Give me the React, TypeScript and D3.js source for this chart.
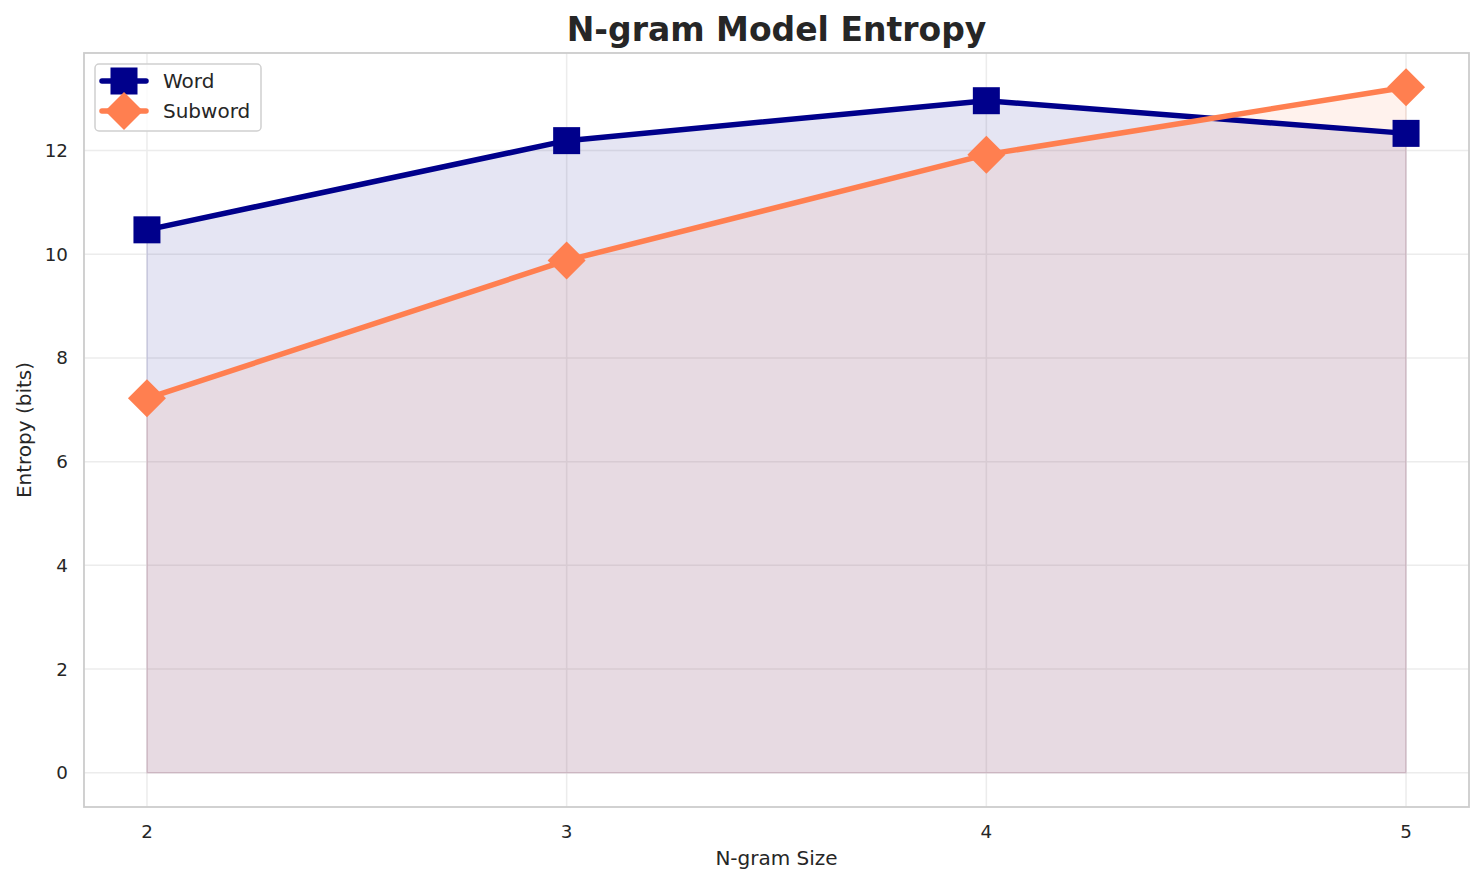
import React from 'react';
import * as d3 from 'd3';

const ngramSizes = [2, 3, 4, 5];
const wordEntropy = [10.47, 12.19, 12.96, 12.33];
const subwordEntropy = [7.22, 9.88, 11.92, 13.22];
const yTicks = [0, 2, 4, 6, 8, 10, 12];

const seriesList = [
  { name: 'Word', values: wordEntropy, color: '#00008b', marker: 'square' },
  { name: 'Subword', values: subwordEntropy, color: '#ff7f50', marker: 'diamond' },
];

const width = 1484;
const height = 885;
const margin = { top: 53, right: 15, bottom: 78, left: 84 };
const font = '"DejaVu Sans", sans-serif';
const textColor = '#262626';

function Marker({ kind, x, y, color }: { kind: string; x: number; y: number; color: string }) {
  if (kind === 'square') {
    return <rect x={x - 13.5} y={y - 13.5} width={27} height={27} fill={color} />;
  }
  const r = 19;
  return (
    <path
      d={`M${x},${y - r}L${x + r},${y}L${x},${y + r}L${x - r},${y}Z`}
      fill={color}
    />
  );
}

export default function App() {
  const x = d3
    .scaleLinear()
    .domain([1.85, 5.15])
    .range([margin.left, width - margin.right]);
  const y = d3
    .scaleLinear()
    .domain([-0.66, 13.88])
    .range([height - margin.bottom, margin.top]);

  const line = d3
    .line<number>()
    .x((_, i) => x(ngramSizes[i]))
    .y((d) => y(d));
  const area = d3
    .area<number>()
    .x((_, i) => x(ngramSizes[i]))
    .y0(y(0))
    .y1((d) => y(d));

  const plotLeft = margin.left;
  const plotRight = width - margin.right;
  const plotTop = margin.top;
  const plotBottom = height - margin.bottom;

  return (
    <svg
      width={width}
      height={height}
      style={{ display: 'block', position: 'absolute', left: 0, top: 0, background: '#fff' }}
      fontFamily={font}
    >
      <rect x={0} y={0} width={width} height={height} fill="#fff" />

      {/* grid */}
      {yTicks.map((t) => (
        <line
          key={'gy' + t}
          x1={plotLeft}
          x2={plotRight}
          y1={y(t)}
          y2={y(t)}
          stroke="#ececec"
          strokeWidth={1.5}
        />
      ))}
      {ngramSizes.map((t) => (
        <line
          key={'gx' + t}
          x1={x(t)}
          x2={x(t)}
          y1={plotTop}
          y2={plotBottom}
          stroke="#ececec"
          strokeWidth={1.5}
        />
      ))}

      {/* filled areas */}
      {seriesList.map((s) => (
        <path
          key={'a' + s.name}
          d={area(s.values) || ''}
          fill={s.color}
          fillOpacity={0.1}
          stroke={s.color}
          strokeOpacity={0.1}
          strokeWidth={1.5}
        />
      ))}

      {/* lines and markers */}
      {seriesList.map((s) => (
        <g key={'l' + s.name}>
          <path d={line(s.values) || ''} fill="none" stroke={s.color} strokeWidth={5.5} strokeLinejoin="round" />
          {s.values.map((v, i) => (
            <Marker key={i} kind={s.marker} x={x(ngramSizes[i])} y={y(v)} color={s.color} />
          ))}
        </g>
      ))}

      {/* frame */}
      <rect
        x={plotLeft}
        y={plotTop}
        width={plotRight - plotLeft}
        height={plotBottom - plotTop}
        fill="none"
        stroke="#cccccc"
        strokeWidth={1.8}
      />

      {/* y ticks */}
      {yTicks.map((t) => (
        <text
          key={'ty' + t}
          x={plotLeft - 16}
          y={y(t)}
          textAnchor="end"
          dominantBaseline="central"
          fontSize={18.3}
          fill={textColor}
        >
          {t}
        </text>
      ))}
      {/* x ticks */}
      {ngramSizes.map((t) => (
        <text
          key={'tx' + t}
          x={x(t)}
          y={plotBottom + 24}
          textAnchor="middle"
          dominantBaseline="central"
          fontSize={18.3}
          fill={textColor}
        >
          {t}
        </text>
      ))}

      {/* axis labels */}
      <text
        x={(plotLeft + plotRight) / 2}
        y={865}
        textAnchor="middle"
        fontSize={20}
        fill={textColor}
      >
        N-gram Size
      </text>
      <text
        transform={`translate(31, ${(plotTop + plotBottom) / 2}) rotate(-90)`}
        textAnchor="middle"
        fontSize={20}
        fill={textColor}
      >
        Entropy (bits)
      </text>

      {/* title */}
      <text
        x={(plotLeft + plotRight) / 2}
        y={41}
        textAnchor="middle"
        fontSize={33}
        fontWeight="bold"
        fill={textColor}
      >
        N-gram Model Entropy
      </text>

      {/* legend */}
      <g>
        <rect x={95} y={64} width={166} height={67} rx={4} fill="#fff" fillOpacity={0.8} stroke="#d0d0d0" strokeWidth={1.5} />
        {seriesList.map((s, i) => {
          const ly = 81 + i * 30;
          return (
            <g key={'lg' + s.name}>
              <line x1={102} x2={146} y1={ly} y2={ly} stroke={s.color} strokeWidth={5.5} strokeLinecap="round" />
              <Marker kind={s.marker} x={124} y={ly} color={s.color} />
              <text x={163} y={ly} dominantBaseline="central" fontSize={20} fill={textColor}>
                {s.name}
              </text>
            </g>
          );
        })}
      </g>
    </svg>
  );
}
